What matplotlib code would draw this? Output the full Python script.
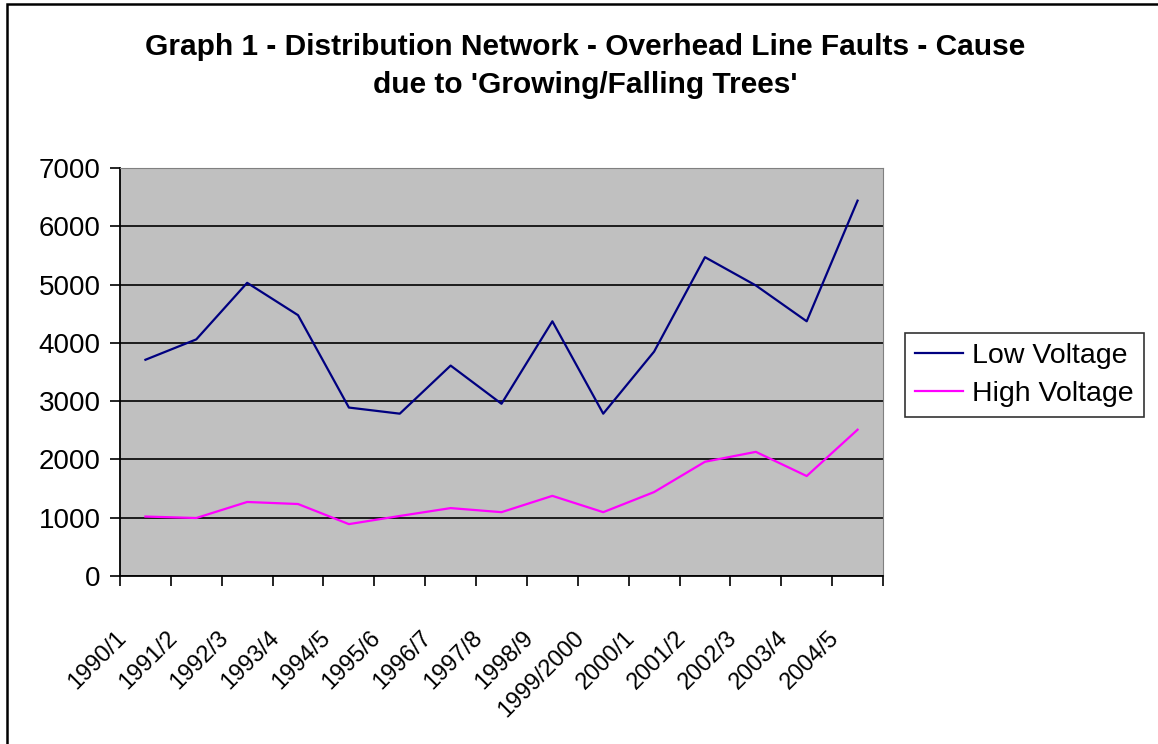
import matplotlib
matplotlib.use("Agg")
import matplotlib.pyplot as plt
import matplotlib.transforms as mtransforms
from matplotlib.patches import Rectangle

years = ["1990/1", "1991/2", "1992/3", "1993/4", "1994/5", "1995/6", "1996/7",
         "1997/8", "1998/9", "1999/2000", "2000/1", "2001/2", "2002/3",
         "2003/4", "2004/5"]
low_voltage = [3710, 4060, 5030, 4475, 2890, 2785, 3610, 2955, 4370, 2785,
               3850, 5470, 4985, 4370, 6440]
high_voltage = [1020, 995, 1270, 1235, 890, 1030, 1165, 1095, 1375, 1095,
                1440, 1960, 2130, 1715, 2510]

navy = (0, 0, 128/255)
magenta = (1, 0, 1)

plt.rcParams['font.family'] = ['Liberation Sans', 'DejaVu Sans']

fig = plt.figure(figsize=(11.58, 7.44), dpi=100)
ax = fig.add_axes([120/1158, 1 - 576/744, (883 - 120)/1158, (576 - 168)/744])
ax.set_facecolor("#c0c0c0")

x = list(range(len(years)))
ax.plot(x, low_voltage, color=navy, lw=1.6, label="Low Voltage", zorder=3)
ax.plot(x, high_voltage, color=magenta, lw=1.6, label="High Voltage", zorder=3)

ax.set_xlim(-0.5, len(years) - 0.5)
ax.set_ylim(0, 7000)
ax.set_yticks(range(0, 7001, 1000))
ax.yaxis.grid(True, color="black", lw=1.2)
ax.set_axisbelow(True)

# ticks between categories, labels at centres
ax.set_xticks([i - 0.5 for i in range(len(years) + 1)])
ax.set_xticklabels([])
ax.set_xticks(x, minor=True)
ax.set_xticklabels(years, minor=True, rotation=45, ha="right",
                   rotation_mode="anchor", fontsize=17)
ax.tick_params(axis="x", which="minor", length=0, pad=22)
ax.tick_params(axis="x", which="major", length=7, width=1.2, direction="out")
ax.tick_params(axis="y", length=7, width=1.2, labelsize=20, pad=7)

# nudge the rotated labels to where Excel put them
shift = mtransforms.ScaledTranslation(-30/100, -20/100, fig.dpi_scale_trans)
for lab in ax.get_xticklabels(minor=True):
    lab.set_transform(lab.get_transform() + shift)

ax.spines["top"].set_color("#808080")
ax.spines["right"].set_color("#808080")
ax.spines["left"].set_linewidth(1.3)
ax.spines["bottom"].set_linewidth(1.3)

fig.text(0.505, 1 - 47/744, "Graph 1 - Distribution Network - Overhead Line Faults - Cause",
         ha="center", va="center", fontsize=21.5, fontweight="bold")
fig.text(0.505, 1 - 85/744, "due to 'Growing/Falling Trees'",
         ha="center", va="center", fontsize=21.5, fontweight="bold")

leg = ax.legend(loc="center left", bbox_to_anchor=(905/1158, 1 - 375/744),
                bbox_transform=fig.transFigure, fontsize=20.5, frameon=True,
                fancybox=False, edgecolor="black", handlelength=1.7,
                handletextpad=0.3, borderpad=0.35, labelspacing=0.45,
                borderaxespad=0)
leg.get_frame().set_linewidth(1.2)

# outer chart border (cropped at right and bottom)
fig.patches.append(Rectangle((7/1158, -0.1), 1.2, 1 - 4/744 + 0.1,
                             transform=fig.transFigure, fill=False,
                             edgecolor="black", lw=1.8))

fig.savefig("out.png", dpi=100)
